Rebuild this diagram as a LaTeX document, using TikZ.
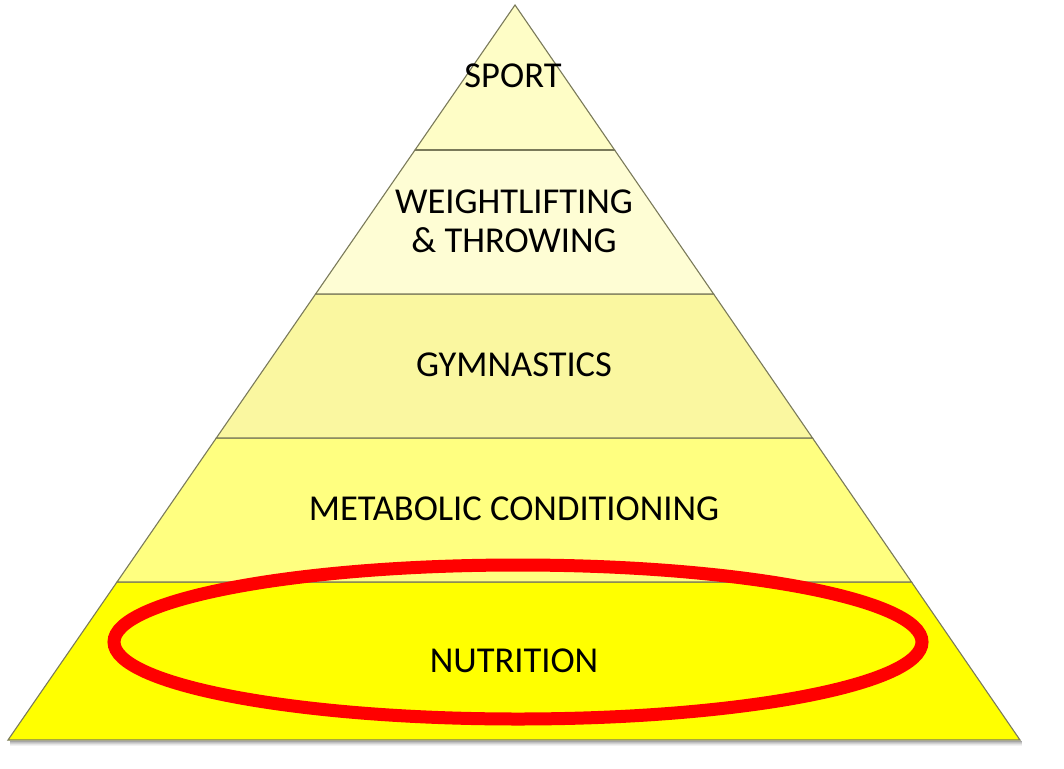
\documentclass[tikz,border=0pt]{standalone}
\usepackage{fontspec}
\setmainfont{Carlito}
\begin{document}
\begin{tikzpicture}[x=1pt,y=-1pt,
  layer/.style={draw=edgecol,line width=1.1pt,line join=miter},
  lbl/.style={font=\fontsize{36.5}{39}\selectfont,text=black,inner sep=0pt,align=center,anchor=center}]
\definecolor{edgecol}{HTML}{7A7A5A}
\definecolor{cA}{HTML}{FEFDC6}
\definecolor{cB}{HTML}{FEFDD4}
\definecolor{cC}{HTML}{FAF7A0}
\definecolor{cD}{HTML}{FFFF80}
\definecolor{cE}{HTML}{FFFF00}
\definecolor{ringred}{HTML}{FF0000}
\useasboundingbox (0,0) rectangle (1064,768);
\fill[white] (0,0) rectangle (1064,768);
% coordinates of the pyramid
\coordinate (apex) at (515,5);
\coordinate (l1) at (415.0,150); \coordinate (r1) at (614.6,150);
\coordinate (l2) at (315.6,294); \coordinate (r2) at (713.6,294);
\coordinate (l3) at (216.3,438); \coordinate (r3) at (812.5,438);
\coordinate (l4) at (117.0,582); \coordinate (r4) at (911.5,582);
\coordinate (l5) at (8,740);     \coordinate (r5) at (1020,740);
% soft shadow under the base
\foreach \d/\o in {1/0.35,2/0.25,3/0.18,4/0.1,5/0.05}{
  \draw[black,opacity=\o,line width=1pt] ([xshift=2pt,yshift=-\d pt]l5) -- ([xshift=2pt,yshift=-\d pt]r5);
}
% layers
\filldraw[layer,fill=cE] (l4) -- (r4) -- (r5) -- (l5) -- cycle;
\filldraw[layer,fill=cD] (l3) -- (r3) -- (r4) -- (l4) -- cycle;
\filldraw[layer,fill=cC] (l2) -- (r2) -- (r3) -- (l3) -- cycle;
\filldraw[layer,fill=cB] (l1) -- (r1) -- (r2) -- (l2) -- cycle;
\filldraw[layer,fill=cA] (apex) -- (r1) -- (l1) -- cycle;
\draw[edgecol,line width=2.5pt] (l1) -- (r1);
% labels
\node[lbl] (sport) at (513,76) {SPORT};
\node[lbl] (weight) at (514,221) {WEIGHTLIFTING\\\& THROWING};
\node[lbl] (gym) at (514,365) {GYMNASTICS};
\node[lbl] (metab) at (514,509) {METABOLIC CONDITIONING};
\node[lbl] (nutri) at (514,661) {NUTRITION};
% red ring
\draw[ringred,line width=13pt] (518,642) ellipse [x radius=404, y radius=77];
\end{tikzpicture}
\end{document}
